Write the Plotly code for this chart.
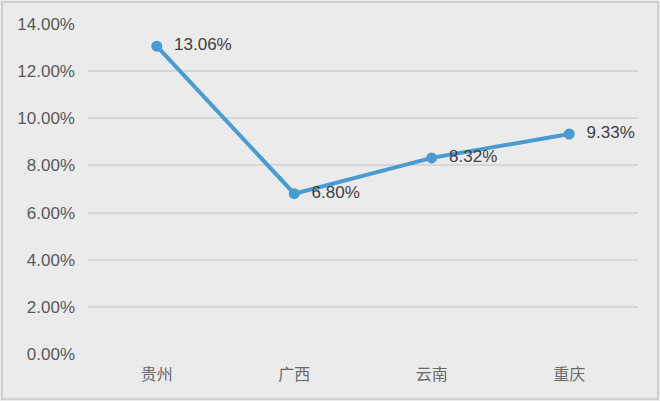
import plotly.graph_objects as go

# data
provinces = ["贵州", "广西", "云南", "重庆"]
growth_rates = [0.1306, 0.0680, 0.0832, 0.0933]
rate_labels = ["13.06%", "6.80%", "8.32%", "9.33%"]
y_ticks = [0, 0.02, 0.04, 0.06, 0.08, 0.10, 0.12, 0.14]

BG = "#ebebeb"
LINE_BLUE = "#4a9bd0"

fig = go.Figure()

fig.add_trace(
    go.Scatter(
        x=provinces,
        y=growth_rates,
        mode="lines+markers+text",
        line=dict(color=LINE_BLUE, width=4),
        marker=dict(color=LINE_BLUE, size=11),
        text=["  " + t for t in rate_labels],
        textposition="middle right",
        textfont=dict(size=17, color="#404040",
                      family="Liberation Sans, Arial, sans-serif"),
        cliponaxis=False,
        showlegend=False,
    )
)

fig.update_layout(
    width=660,
    height=401,
    margin=dict(l=88, r=22, t=24, b=47),
    paper_bgcolor=BG,
    plot_bgcolor=BG,
    font=dict(family="Liberation Sans, Arial, Noto Sans CJK SC, sans-serif",
              color="#595959", size=17),
    xaxis=dict(
        range=[-0.5, 3.5],
        automargin=False,
        showgrid=False,
        showline=False,
        zeroline=False,
        ticks="",
        ticklabelstandoff=9,
        tickfont=dict(family="Noto Sans CJK SC, sans-serif", size=16,
                      color="#6a6a6a"),
    ),
    yaxis=dict(
        range=[0, 0.14],
        automargin=False,
        tickvals=y_ticks,
        tickformat=".2%",
        showgrid=True,
        gridcolor="#d6d6d6",
        gridwidth=1.5,
        zeroline=False,
        showline=False,
        ticks="",
        ticklabelstandoff=12,
    ),
    shapes=[
        dict(type="rect", xref="paper", yref="paper",
             x0=-86 / 550, x1=1 + 20 / 550, y0=-45 / 330, y1=1 + 22 / 330,
             line=dict(color="#d0d0d0", width=2), layer="below"),
    ],
)

# page body has a default 8px margin; drop it so the chart sits at 0,0
fig.write_html(
    "out.html",
    config={"displayModeBar": False},
    post_script="document.body.style.margin='0px';",
)
